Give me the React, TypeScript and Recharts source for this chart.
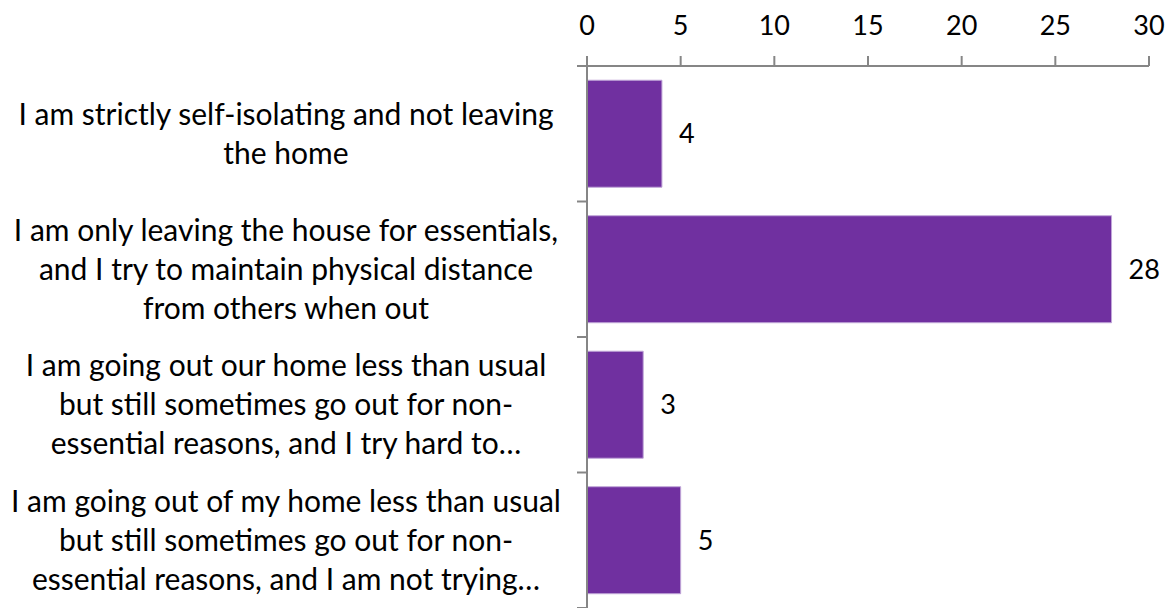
import { BarChart, Bar, XAxis, YAxis, LabelList } from 'recharts';

const categories = [
	'I am strictly self-isolating and not leaving\nthe home',
	'I am only leaving the house for essentials,\nand I try to maintain physical distance\nfrom others when out',
	'I am going out our home less than usual\nbut still sometimes go out for non-\nessential reasons, and I try hard to…',
	'I am going out of my home less than usual\nbut still sometimes go out for non-\nessential reasons, and I am not trying…',
];

const counts = [4, 28, 3, 5];

const xTicks = [0, 5, 10, 15, 20, 25, 30];

const FONT = 'Lato, "Open Sans", sans-serif';
const AXIS_GREY = '#868686';

// category labels are centred in a box left of the axis, tick marks sit between categories
const CategoryTick = (props: any) => {
	const { x, y, payload, index, visibleTicksCount } = props;
	const lines: string[] = String(payload.value).split('\n');
	const lineHeight = 39;
	const startY = y - ((lines.length - 1) * lineHeight) / 2;
	const half = payload.offset || 67.75;
	const axisX = x + 20;
	const cx = x - 281;
	return (
		<g>
			<line x1={axisX - 10} x2={axisX} y1={y - half} y2={y - half} stroke={AXIS_GREY} strokeWidth={2} />
			{index === visibleTicksCount - 1 && (
				<line x1={axisX - 10} x2={axisX} y1={y + half} y2={y + half} stroke={AXIS_GREY} strokeWidth={2} />
			)}
			<text x={cx} y={startY} textAnchor="middle" fontFamily={FONT} fontSize={30} fill="#000">
				{lines.map((line, i) => (
					<tspan key={i} x={cx} y={startY + i * lineHeight} dy="0.35em">
						{line}
					</tspan>
				))}
			</text>
		</g>
	);
};

export default function App() {
	const data = categories.map((c, i) => ({ category: c, count: counts[i] }));

	return (
		<div style={{ position: 'absolute', left: 0, top: 0, background: '#fff' }}>
			<BarChart
				width={1175}
				height={608}
				data={data}
				layout="vertical"
				margin={{ top: 0, right: 26, bottom: 0, left: 0 }}
				barCategoryGap="10.5%"
			>
				<XAxis
					type="number"
					orientation="top"
					domain={[0, 30]}
					ticks={xTicks}
					height={66}
					tickSize={10}
					tickMargin={21}
					stroke={AXIS_GREY}
					strokeWidth={2}
					tick={{ fill: '#000', fontSize: 27, fontFamily: FONT }}
					interval={0}
				/>
				<YAxis
					type="category"
					dataKey="category"
					width={587}
					tickLine={false}
					tickSize={0}
					tickMargin={20}
					stroke={AXIS_GREY}
					strokeWidth={2}
					tick={<CategoryTick />}
					interval={0}
				/>
				<Bar dataKey="count" fill="#7030A0" stroke="#C0A6D8" strokeWidth={1} isAnimationActive={false}>
					<LabelList dataKey="count" position="right" offset={17} fill="#000" fontSize={27} fontFamily={FONT} />
				</Bar>
			</BarChart>
		</div>
	);
}
